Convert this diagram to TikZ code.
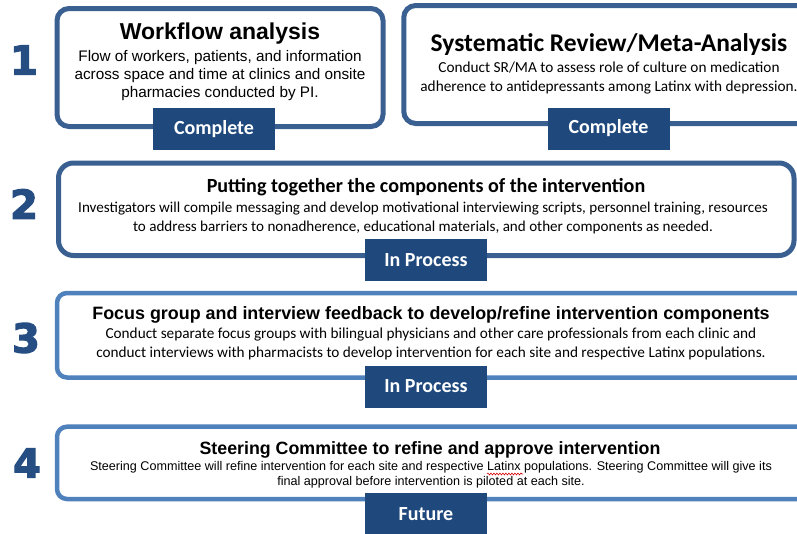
\documentclass[tikz,border=0pt]{standalone}
\usepackage{fontspec}
\setmainfont{Liberation Sans}
\newfontfamily\calfont{Carlito}
\newfontfamily\numfont[BoldFeatures={FakeBold=3}]{DejaVu Sans}
\usetikzlibrary{decorations.pathmorphing}
\definecolor{darkborder}{RGB}{58,95,145}
\definecolor{lightborder}{RGB}{79,129,189}
\definecolor{badgefill}{RGB}{31,73,125}
\definecolor{numcol}{RGB}{38,78,130}
\tikzset{
  darkbox/.style={draw=darkborder, line width=5pt, rounded corners=12pt, fill=white, inner sep=0pt},
  lightbox/.style={draw=lightborder, line width=4.5pt, rounded corners=10pt, fill=white, inner sep=0pt},
  badge/.style={fill=badgefill, text=white, minimum width=122pt, minimum height=42pt, inner sep=0pt,
     font=\calfont\bfseries\fontsize{20}{24}\selectfont},
  stepnum/.style={text=numcol, font=\numfont\bfseries\fontsize{40}{44}\selectfont, inner sep=0pt},
  arialtitle/.style={font=\bfseries\fontsize{#1}{#1}\selectfont, inner sep=0pt},
  caltitle/.style={font=\calfont\bfseries\fontsize{#1}{#1}\selectfont, inner sep=0pt},
}
\begin{document}
\begin{tikzpicture}[x=1pt,y=-1pt]
\useasboundingbox (0,0) rectangle (797,533);
\clip (0,0) rectangle (797,533);
\fill[white] (0,0) rectangle (797,533);

% step numbers
\node[stepnum] (n1) at (24,60) {1};
\node[stepnum] (n2) at (24,204) {2};
\node[stepnum] (n3) at (26,338) {3};
\node[stepnum] (n4) at (27,463) {4};

% row 1 left
\node[darkbox, minimum width=326pt, minimum height=118pt] (b1) at (220,67.5) {};
\node[arialtitle=23] (t1) at (220,33.5) {Workflow analysis};
\node[align=center, inner sep=0pt, font=\fontsize{15.3}{18}\selectfont] (d1) at (220,76)
  {Flow of workers, patients, and information\\across space and time at clinics and onsite\\pharmacies conducted by PI.};
\node[badge] (s1) at (214,129) {Complete};

% row 1 right
\node[darkbox, minimum width=426pt, minimum height=118pt] (b2) at (616.75,64.5) {};
\node[caltitle=25.5] (t2) at (609,45) {Systematic Review/Meta-Analysis};
\node[align=center, inner sep=0pt, font=\calfont\fontsize{15.3}{19}\selectfont] (d2) at (609,78)
  {Conduct SR/MA to assess role of culture on medication\\adherence to antidepressants among Latinx with depression.};
\node[badge] (s2) at (608.5,128.5) {Complete};

% row 2
\node[darkbox, rounded corners=15pt, minimum width=735.5pt, minimum height=92.5pt] (b3) at (426.25,209.25) {};
\node[caltitle=20.1] (t3) at (426,187) {Putting together the components of the intervention};
\node[align=center, inner sep=0pt, font=\calfont\fontsize{15.1}{19}\selectfont] (d3) at (423,218)
  {Investigators will compile messaging and develop motivational interviewing scripts, personnel training, resources\\to address barriers to nonadherence, educational materials, and other components as needed.};
\node[badge] (s3) at (426,259.6) {In Process};

% row 3
\node[lightbox, minimum width=780pt, minimum height=84.5pt] (b4) at (447,335.25) {};
\node[arialtitle=17.9] (t4) at (431,315) {Focus group and interview feedback to develop/refine intervention components};
\node[align=center, inner sep=0pt, font=\calfont\fontsize{15.25}{18.5}\selectfont] (d4) at (431,344)
  {Conduct separate focus groups with bilingual physicians and other care professionals from each clinic and\\conduct interviews with pharmacists to develop intervention for each site and respective Latinx populations.};
\node[badge] (s4) at (426,386.5) {In Process};

% row 4
\node[lightbox, minimum width=780pt, minimum height=72.3pt] (b5) at (447,462.85) {};
\node[arialtitle=17.8] (t5) at (430,450) {Steering Committee to refine and approve intervention};
\node[align=center, inner sep=0pt, font=\fontsize{12.6}{15}\selectfont] (d5) at (431,475)
  {Steering Committee will refine intervention for each site and respective Latinx populations. Steering Committee will give its\\final approval before intervention is piloted at each site.};
\coordinate (sq1) at (487,474);
\coordinate (sq2) at (523,474);
\draw[red!85!black, line width=0.6pt, decorate, decoration={snake, amplitude=0.9pt, segment length=3pt}] (sq1) -- (sq2);
\node[badge] (s5) at (426,514) {Future};
\end{tikzpicture}
\end{document}
